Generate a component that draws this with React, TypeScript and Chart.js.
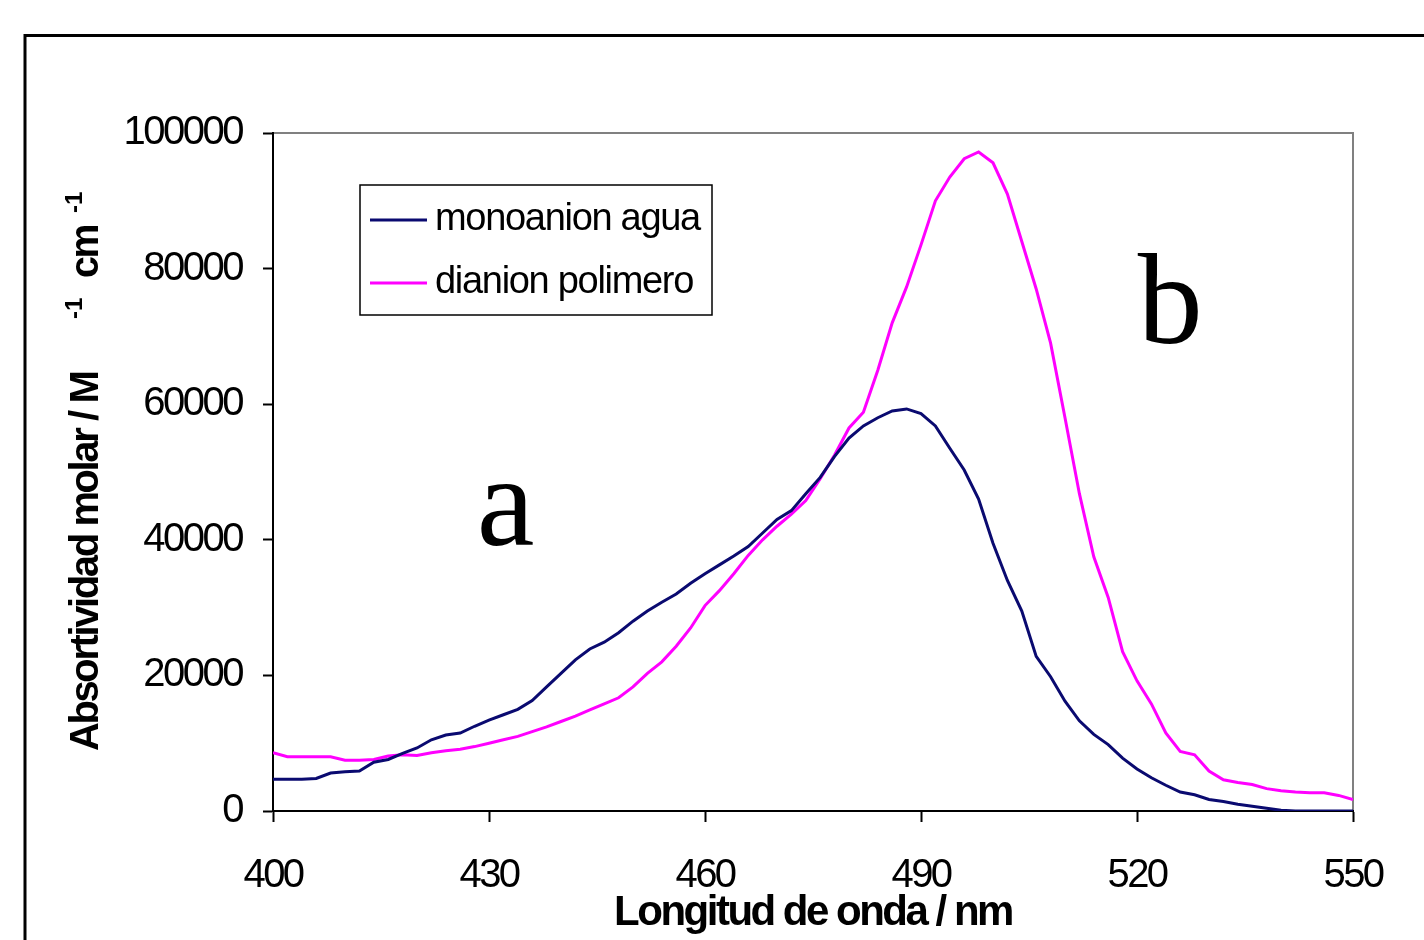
import React, { useEffect, useRef } from 'react';
import { Chart, registerables } from 'chart.js';

Chart.register(...registerables);

const wavelengths = [
  400, 402, 404, 406, 408, 410, 412, 414, 416, 418,
  420, 422, 424, 426, 428, 430, 432, 434, 436, 438,
  440, 442, 444, 446, 448, 450, 452, 454, 456, 458,
  460, 462, 464, 466, 468, 470, 472, 474, 476, 478,
  480, 482, 484, 486, 488, 490, 492, 494, 496, 498,
  500, 502, 504, 506, 508, 510, 512, 514, 516, 518,
  520, 522, 524, 526, 528, 530, 532, 534, 536, 538,
  540, 542, 544, 546, 548, 550,
];

const monoanionAgua = [
  4700, 4700, 4700, 4800, 5600, 5800, 5900, 7200, 7600, 8500,
  9300, 10500, 11200, 11500, 12500, 13400, 14200, 15000, 16300, 18300,
  20300, 22300, 23900, 24900, 26300, 28000, 29500, 30800, 32000, 33600,
  35000, 36300, 37600, 39000, 41000, 43000, 44300, 46800, 49200, 52300,
  55000, 56800, 58000, 59000, 59300, 58600, 56800, 53500, 50300, 46000,
  39500, 34000, 29500, 22800, 19800, 16200, 13300, 11300, 9800, 7800,
  6200, 4900, 3800, 2800, 2400, 1700, 1400, 1000, 700, 400,
  100, 0, 0, 0, 0, 0,
];

const dianionPolimero = [
  8600, 8000, 8000, 8000, 8000, 7500, 7500, 7600, 8100, 8300,
  8200, 8600, 8900, 9100, 9500, 10000, 10500, 11000, 11700, 12400,
  13200, 14000, 14900, 15800, 16700, 18300, 20300, 22000, 24300, 27000,
  30300, 32500, 35000, 37700, 40000, 42000, 43800, 45800, 49000, 52500,
  56500, 58800, 65000, 72000, 77300, 83500, 90000, 93500, 96200, 97200,
  95600, 91000, 84000, 77000, 69000, 58000, 46800, 37500, 31500, 23500,
  19200, 15800, 11500, 8800, 8300, 5900, 4600, 4200, 3900, 3300,
  3000, 2800, 2700, 2700, 2300, 1700,
];

const seriesLabels = ['monoanion agua', 'dianion polimero'];
const seriesColors = ['#0a0a70', '#ff00ff'];
const xTickValues = [400, 430, 460, 490, 520, 550];
const yTickValues = [0, 20000, 40000, 60000, 80000, 100000];
const xTitle = 'Longitud de onda / nm';
const yTitleMain = 'Absortividad molar / M';
const yTitleUnit = 'cm';
const yTitleExp = '-1';
const curveLabels = ['a', 'b'];
const curveLabelX = [428.3, 520.1];
const curveLabelY = [39200, 69000];

const SANS = "'Liberation Sans', Arial, sans-serif";
const SERIF = "'Liberation Serif', 'Times New Roman', serif";

const framePlugin = {
  id: 'framePlugin',
  beforeDraw(chart: any) {
    const { ctx, chartArea } = chart;
    ctx.save();
    ctx.fillStyle = '#ffffff';
    ctx.fillRect(0, 0, chart.width, chart.height);
    ctx.strokeStyle = '#808080';
    ctx.lineWidth = 2;
    ctx.beginPath();
    ctx.moveTo(chartArea.left, chartArea.top);
    ctx.lineTo(chartArea.right, chartArea.top);
    ctx.lineTo(chartArea.right, chartArea.bottom);
    ctx.stroke();
    ctx.restore();
    (ctx as any).letterSpacing = '-2.5px';
  },
  afterDraw(chart: any) {
    const { ctx, chartArea, scales } = chart;
    ctx.save();
    (ctx as any).letterSpacing = '0px';
    // outer frame
    ctx.strokeStyle = '#000000';
    ctx.lineWidth = 3;
    ctx.strokeRect(25, 35.5, 1600, 1200);

    // legend
    const lx = chartArea.left + 87;
    const ly = chartArea.top + 52;
    const lw = 352;
    const lh = 130;
    ctx.fillStyle = '#ffffff';
    ctx.fillRect(lx, ly, lw, lh);
    ctx.lineWidth = 1.5;
    ctx.strokeStyle = '#000000';
    ctx.strokeRect(lx, ly, lw, lh);
    ctx.font = `38px ${SANS}`;
    (ctx as any).letterSpacing = '-1.3px';
    ctx.textBaseline = 'middle';
    ctx.textAlign = 'left';
    chart.data.datasets.forEach((ds: any, i: number) => {
      const rowY = ly + 35 + i * 63;
      ctx.strokeStyle = ds.borderColor;
      ctx.lineWidth = 3;
      ctx.beginPath();
      ctx.moveTo(lx + 10, rowY);
      ctx.lineTo(lx + 67, rowY);
      ctx.stroke();
      ctx.fillStyle = '#000000';
      ctx.fillText(ds.label, lx + 75, rowY, 268);
    });

    // curve labels a / b
    (ctx as any).letterSpacing = '0px';
    ctx.font = `130px ${SERIF}`;
    ctx.textBaseline = 'alphabetic';
    ctx.fillStyle = '#000000';
    curveLabels.forEach((t, i) => {
      const px = scales.x.getPixelForValue(curveLabelX[i]);
      const py = scales.y.getPixelForValue(curveLabelY[i]);
      ctx.fillText(t, px, py);
    });

    // y axis title with superscripts
    ctx.translate(98, 751);
    ctx.rotate(-Math.PI / 2);
    ctx.textBaseline = 'alphabetic';
    ctx.font = `bold 40px ${SANS}`;
    (ctx as any).letterSpacing = '-2.4px';
    ctx.fillText(yTitleMain, 0, 0, 388);
    ctx.font = `bold 24px ${SANS}`;
    (ctx as any).letterSpacing = '0px';
    ctx.fillText(yTitleExp, 432, -16);
    ctx.font = `bold 40px ${SANS}`;
    (ctx as any).letterSpacing = '-2.4px';
    ctx.fillText(yTitleUnit, 473, 0, 52);
    ctx.font = `bold 24px ${SANS}`;
    (ctx as any).letterSpacing = '0px';
    ctx.fillText(yTitleExp, 538, -16);
    ctx.restore();
  },
};

export default function App() {
  const canvasRef = useRef<HTMLCanvasElement | null>(null);

  useEffect(() => {
    document.body.style.margin = '0';
    document.body.style.overflow = 'hidden';
    const canvas = canvasRef.current;
    if (!canvas) return;
    const chart = new Chart(canvas, {
      type: 'line',
      data: {
        datasets: [
          {
            label: seriesLabels[0],
            data: wavelengths.map((w, i) => ({ x: w, y: monoanionAgua[i] })),
            borderColor: seriesColors[0],
            backgroundColor: seriesColors[0],
            borderWidth: 3,
            pointRadius: 0,
            tension: 0,
          },
          {
            label: seriesLabels[1],
            data: wavelengths.map((w, i) => ({ x: w, y: dianionPolimero[i] })),
            borderColor: seriesColors[1],
            backgroundColor: seriesColors[1],
            borderWidth: 3,
            pointRadius: 0,
            tension: 0,
          },
        ],
      },
      options: {
        responsive: false,
        animation: false,
        devicePixelRatio: 1,
        layout: { padding: { left: 0, top: 133, right: 71, bottom: 0 } },
        plugins: {
          legend: { display: false },
          tooltip: { enabled: false },
        },
        scales: {
          x: {
            type: 'linear',
            min: 400,
            max: 550,
            afterFit(scale: any) {
              scale.height = 129;
            },
            afterBuildTicks(scale: any) {
              scale.ticks = xTickValues.map((v) => ({ value: v }));
            },
            ticks: {
              color: '#000000',
              font: { family: SANS, size: 40 },
              padding: 30,
              maxRotation: 0,
              autoSkip: false,
            },
            grid: {
              display: true,
              drawOnChartArea: false,
              drawTicks: true,
              tickLength: 11,
              tickColor: '#000000',
              tickWidth: 2,
            },
            border: { display: true, color: '#000000', width: 2 },
            title: {
              display: true,
              text: xTitle,
              color: '#000000',
              font: { family: SANS, size: 42, weight: 'bold', lineHeight: 1.2 },
              padding: { top: 0, bottom: 1 },
            },
          },
          y: {
            type: 'linear',
            min: 0,
            max: 100000,
            afterFit(scale: any) {
              scale.width = 273;
            },
            afterBuildTicks(scale: any) {
              scale.ticks = yTickValues.map((v) => ({ value: v }));
            },
            ticks: {
              color: '#000000',
              font: { family: SANS, size: 40 },
              padding: 21,
              autoSkip: false,
              callback: (v: any) => String(v),
            },
            grid: {
              display: true,
              drawOnChartArea: false,
              drawTicks: true,
              tickLength: 10,
              tickColor: '#000000',
              tickWidth: 2,
            },
            border: { display: true, color: '#000000', width: 2 },
          },
        },
      },
      plugins: [framePlugin],
    } as any);
    return () => {
      chart.destroy();
    };
  }, []);

  return (
    <div style={{ width: 1424, height: 940, position: 'relative', background: '#ffffff' }}>
      <canvas ref={canvasRef} width={1424} height={940} style={{ display: 'block' }} />
    </div>
  );
}
